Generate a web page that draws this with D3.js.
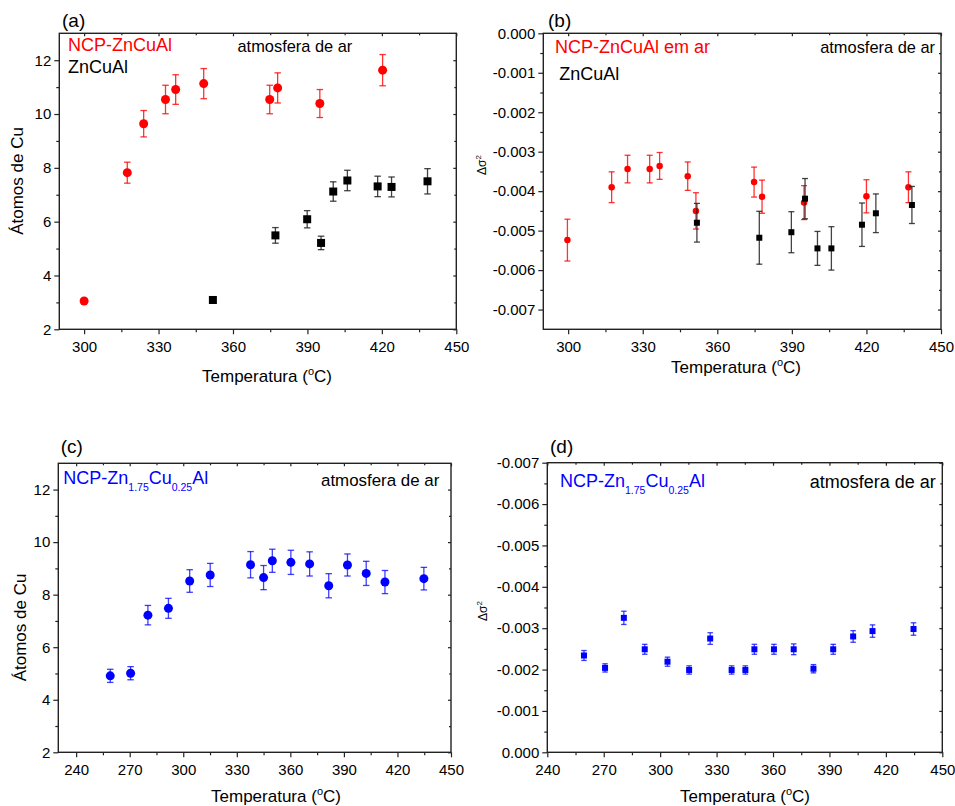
<!DOCTYPE html>
<html><head><meta charset="utf-8">
<script src="https://cdn.jsdelivr.net/npm/d3@7"></script>
<style>
body{margin:0;background:#fff}
text{font-family:"Liberation Sans",Arial,Helvetica,sans-serif}
</style>
</head><body>
<svg id="chart" width="955" height="806"></svg>
<script>
// ---------- DATA ----------
// Panel (a): Cu atoms vs temperature
const tempA_NCP  = [300, 317.4, 324, 332.8, 336.9, 348.2, 374.8, 378, 395, 420.3];
const atomsA_NCP = [3.05, 7.82, 9.64, 10.54, 10.91, 11.13, 10.54, 10.97, 10.39, 11.63];
const errA_NCP   = [0.08, 0.39, 0.49, 0.53, 0.55, 0.56, 0.53, 0.56, 0.52, 0.58];

const tempA_ZCA  = [351.9, 377.1, 389.9, 395.5, 400.4, 406.1, 418.3, 423.9, 438.4];
const atomsA_ZCA = [3.09, 5.49, 6.09, 5.21, 7.12, 7.53, 7.31, 7.29, 7.50];
const errA_ZCA   = [0.12, 0.29, 0.32, 0.25, 0.36, 0.38, 0.38, 0.37, 0.47];

// Panel (b): delta sigma^2 vs temperature
const tempB_NCP  = [299.7, 317.5, 323.9, 332.8, 336.8, 348.1, 351.4, 374.8, 378, 394.9, 420, 436.9];
const dsigB_NCP  = [-0.00524, -0.00390, -0.00344, -0.00344, -0.00336, -0.00362, -0.00450, -0.00377, -0.00414, -0.00429, -0.00413, -0.00390];
const errB_NCP   = [0.00053, 0.00039, 0.00035, 0.00035, 0.00034, 0.00036, 0.00046, 0.00038, 0.00042, 0.00043, 0.00042, 0.00039];

const tempB_ZCA  = [351.8, 376.9, 389.8, 395.3, 400.3, 405.9, 418.2, 423.8, 438.3];
const dsigB_ZCA  = [-0.00480, -0.00518, -0.00504, -0.00419, -0.00545, -0.00545, -0.00485, -0.00456, -0.00435];
const errB_ZCA   = [0.00049, 0.00067, 0.00052, 0.00051, 0.00043, 0.00055, 0.00055, 0.00049, 0.00047];

// Panel (c): Cu atoms, NCP-Zn1.75Cu0.25Al
const tempC  = [259.1, 270.5, 280.2, 291.7, 303.6, 315.1, 337.7, 345, 349.9, 360.3, 370.8, 381.5, 392, 402.5, 413, 434.8];
const atomsC = [4.91, 5.01, 7.22, 7.48, 8.52, 8.75, 9.14, 8.65, 9.29, 9.23, 9.17, 8.34, 9.13, 8.81, 8.48, 8.61];
const errC   = [0.25, 0.25, 0.37, 0.38, 0.43, 0.44, 0.50, 0.46, 0.44, 0.46, 0.46, 0.46, 0.42, 0.46, 0.44, 0.43];

// Panel (d): delta sigma^2, NCP-Zn1.75Cu0.25Al
const tempD  = [259.5, 270.7, 280.7, 291.8, 303.9, 315.4, 326.6, 338, 345.3, 350.1, 360.5, 371, 381.5, 392, 402.6, 412.9, 434.7];
const dsigD  = [-0.00234, -0.00204, -0.00325, -0.00249, -0.00219, -0.00199, -0.00275, -0.00199, -0.00199, -0.00249, -0.00249, -0.00249, -0.00202, -0.00249, -0.00280, -0.00293, -0.00298];
const errD   = [0.00012, 0.00010, 0.00016, 0.00012, 0.00011, 0.00010, 0.00014, 0.00010, 0.00010, 0.00012, 0.00012, 0.00013, 0.00010, 0.00012, 0.00014, 0.00015, 0.00015];

// tick values
const xTicksAB = [300, 330, 360, 390, 420, 450];
const xMinorAB = [315, 345, 375, 405, 435];
const xTicksCD = [240, 270, 300, 330, 360, 390, 420, 450];
const xMinorCD = [255, 285, 315, 345, 375, 405, 435];
const yTicksAtoms = [2, 4, 6, 8, 10, 12];
const yMinorAtoms = [3, 5, 7, 9, 11];
const yTicksSig = [0, -0.001, -0.002, -0.003, -0.004, -0.005, -0.006, -0.007];
const yMinorSig = [-0.0005, -0.0015, -0.0025, -0.0035, -0.0045, -0.0055, -0.0065];

// ---------- DRAW ----------
const svg = d3.select("#chart");
const RED = "#ff0000", BLUE = "#0000ff", BLACK = "#000000";
const fmtSig = v => (Math.abs(v) < 1e-12 ? "0.000" : v.toFixed(3));

function panel(o) {
  const g = svg.append("g");
  const x = d3.scaleLinear().domain(o.xDomain).range([o.x0, o.x1]);
  const y = d3.scaleLinear().domain(o.yDomain).range([o.y1, o.y0]);

  // axes
  const ax = (gen, tr) => {
    const a = g.append("g").attr("transform", tr).call(gen);
    a.select(".domain").remove();
    a.selectAll("line").attr("stroke", "#222").attr("stroke-width", 1.2);
    a.selectAll("text").attr("font-size", 15).attr("fill", "#000")
      .style("font-family", '"Liberation Sans",Arial,sans-serif');
    return a;
  };
  ax(d3.axisBottom(x).tickValues(o.xTicks).tickSize(5).tickPadding(7).tickFormat(d3.format("d")), `translate(0,${o.y1})`);
  ax(d3.axisBottom(x).tickValues(o.xMinor).tickSize(3).tickFormat(""), `translate(0,${o.y1})`);
  ax(d3.axisTop(x).tickValues(o.xTicks).tickSize(-3).tickFormat(""), `translate(0,${o.y0})`);
  ax(d3.axisTop(x).tickValues(o.xMinor).tickSize(-2).tickFormat(""), `translate(0,${o.y0})`);
  ax(d3.axisLeft(y).tickValues(o.yTicks).tickSize(5).tickPadding(3).tickFormat(o.yFmt), `translate(${o.x0},0)`);
  ax(d3.axisLeft(y).tickValues(o.yMinor).tickSize(3).tickFormat(""), `translate(${o.x0},0)`);
  ax(d3.axisRight(y).tickValues(o.yTicks).tickSize(-3).tickFormat(""), `translate(${o.x1},0)`);
  ax(d3.axisRight(y).tickValues(o.yMinor).tickSize(-2).tickFormat(""), `translate(${o.x1},0)`);

  // frame
  g.append("rect").attr("x", o.x0).attr("y", o.y0)
    .attr("width", o.x1 - o.x0).attr("height", o.y1 - o.y0)
    .attr("fill", "none").attr("stroke", "#222").attr("stroke-width", 1.4);

  // series
  o.series.forEach(s => {
    const data = s.xs.map((v, i) => ({ x: v, y: s.ys[i], e: s.es[i] }));
    const sg = g.append("g");
    const eb = sg.selectAll("g.eb").data(data).enter().append("g")
      .attr("stroke", s.errColor).attr("stroke-width", 1.3).attr("stroke-opacity", s.errOpacity);
    eb.append("line").attr("x1", d => x(d.x)).attr("x2", d => x(d.x))
      .attr("y1", d => y(d.y - d.e)).attr("y2", d => y(d.y + d.e));
    eb.append("line").attr("x1", d => x(d.x) - s.cap / 2).attr("x2", d => x(d.x) + s.cap / 2)
      .attr("y1", d => y(d.y - d.e)).attr("y2", d => y(d.y - d.e));
    eb.append("line").attr("x1", d => x(d.x) - s.cap / 2).attr("x2", d => x(d.x) + s.cap / 2)
      .attr("y1", d => y(d.y + d.e)).attr("y2", d => y(d.y + d.e));
    if (s.shape === "circle") {
      sg.selectAll("circle").data(data).enter().append("circle")
        .attr("cx", d => x(d.x)).attr("cy", d => y(d.y)).attr("r", s.size / 2)
        .attr("fill", s.color);
    } else {
      sg.selectAll("rect").data(data).enter().append("rect")
        .attr("x", d => x(d.x) - s.size / 2).attr("y", d => y(d.y) - s.size / 2)
        .attr("width", s.size).attr("height", s.size).attr("fill", s.color);
    }
  });

  // panel label
  g.append("text").attr("x", o.label[0]).attr("y", o.label[1]).attr("font-size", 19).text(o.label[2]);

  // x title
  const xt = g.append("text").attr("x", o.xTitle[0]).attr("y", o.xTitle[1])
    .attr("text-anchor", "middle").attr("font-size", 17);
  xt.append("tspan").text("Temperatura (");
  xt.append("tspan").attr("font-size", 11).attr("dy", -7).text("o");
  xt.append("tspan").attr("dy", 7).text("C)");

  // y title
  const yt = g.append("text").attr("transform", `translate(${o.yTitle[0]},${o.yTitle[1]}) rotate(-90)`)
    .attr("text-anchor", "middle").attr("font-size", o.yTitle[2]);
  if (o.yTitle[3] === "sig") {
    yt.append("tspan").text("Δσ");
    yt.append("tspan").attr("font-size", 8).attr("dy", -5).text("2");
  } else {
    yt.text(o.yTitle[3]);
  }
  return g;
}

function subText(g, xPos, yPos, color, size) {
  const t = g.append("text").attr("x", xPos).attr("y", yPos).attr("fill", color).attr("font-size", size);
  t.append("tspan").text("NCP-Zn");
  t.append("tspan").attr("font-size", 10.5).attr("dy", 7).text("1.75");
  t.append("tspan").attr("dy", -7).text("Cu");
  t.append("tspan").attr("font-size", 10.5).attr("dy", 7).text("0.25");
  t.append("tspan").attr("dy", -7).text("Al");
}

// (a)
const gA = panel({
  x0: 59.3, x1: 456.3, y0: 33.3, y1: 329.3,
  xDomain: [290, 450], yDomain: [2, 13],
  xTicks: xTicksAB, xMinor: xMinorAB, yTicks: yTicksAtoms, yMinor: yMinorAtoms, yFmt: d3.format("d"),
  label: [62, 27, "(a)"], xTitle: [267, 382], yTitle: [22.5, 181, 17, "Átomos de Cu"],
  series: [
    { xs: tempA_NCP, ys: atomsA_NCP, es: errA_NCP, color: RED, errColor: RED, errOpacity: 0.8, shape: "circle", size: 9, cap: 6.5 },
    { xs: tempA_ZCA, ys: atomsA_ZCA, es: errA_ZCA, color: BLACK, errColor: "#222", errOpacity: 0.85, shape: "square", size: 8, cap: 6.5 }
  ]
});
gA.append("text").attr("x", 68).attr("y", 51).attr("fill", RED).attr("font-size", 18).text("NCP-ZnCuAl");
gA.append("text").attr("x", 68).attr("y", 72.5).attr("fill", BLACK).attr("font-size", 18).text("ZnCuAl");
gA.append("text").attr("x", 237.5).attr("y", 51.5).attr("fill", BLACK).attr("font-size", 16.4).text("atmosfera de ar");

// (b)
const gB = panel({
  x0: 543.3, x1: 941, y0: 33.3, y1: 329.3,
  xDomain: [290, 450], yDomain: [-0.0075, 0],
  xTicks: xTicksAB, xMinor: xMinorAB, yTicks: yTicksSig, yMinor: yMinorSig, yFmt: fmtSig,
  label: [548, 27, "(b)"], xTitle: [736, 373], yTitle: [486, 165, 12, "sig"],
  series: [
    { xs: tempB_NCP, ys: dsigB_NCP, es: errB_NCP, color: RED, errColor: RED, errOpacity: 0.8, shape: "circle", size: 6.5, cap: 6 },
    { xs: tempB_ZCA, ys: dsigB_ZCA, es: errB_ZCA, color: BLACK, errColor: "#222", errOpacity: 0.85, shape: "square", size: 6, cap: 6 }
  ]
});
gB.append("text").attr("x", 555).attr("y", 53.3).attr("fill", RED).attr("font-size", 18).text("NCP-ZnCuAl em ar");
gB.append("text").attr("x", 559.3).attr("y", 80).attr("fill", BLACK).attr("font-size", 18).text("ZnCuAl");
gB.append("text").attr("x", 935).attr("y", 53.3).attr("text-anchor", "end").attr("fill", BLACK).attr("font-size", 16.4).text("atmosfera de ar");

// (c)
const gC = panel({
  x0: 58.3, x1: 451, y0: 463.3, y1: 752.3,
  xDomain: [230, 450], yDomain: [2, 13],
  xTicks: xTicksCD, xMinor: xMinorCD, yTicks: yTicksAtoms, yMinor: yMinorAtoms, yFmt: d3.format("d"),
  label: [60.7, 453.3, "(c)"], xTitle: [276, 801.5], yTitle: [26, 627.5, 17, "Átomos de Cu"],
  series: [
    { xs: tempC, ys: atomsC, es: errC, color: BLUE, errColor: BLUE, errOpacity: 0.75, shape: "circle", size: 9, cap: 6.5 }
  ]
});
subText(gC, 63.3, 484, BLUE, 18);
gC.append("text").attr("x", 439.3).attr("y", 486).attr("text-anchor", "end").attr("fill", BLACK).attr("font-size", 16.9).text("atmosfera de ar");

// (d)
const gD = panel({
  x0: 547.3, x1: 942.3, y0: 462.7, y1: 752.3,
  xDomain: [240, 450], yDomain: [0, -0.007],
  xTicks: xTicksCD, xMinor: xMinorCD, yTicks: yTicksSig, yMinor: yMinorSig, yFmt: fmtSig,
  label: [550, 453.3, "(d)"], xTitle: [745, 802], yTitle: [487, 611, 12, "sig"],
  series: [
    { xs: tempD, ys: dsigD, es: errD, color: BLUE, errColor: BLUE, errOpacity: 0.75, shape: "square", size: 6, cap: 5.5 }
  ]
});
subText(gD, 560, 486.7, BLUE, 18);
gD.append("text").attr("x", 935.7).attr("y", 488).attr("text-anchor", "end").attr("fill", BLACK).attr("font-size", 18).text("atmosfera de ar");
</script>
</body></html>
